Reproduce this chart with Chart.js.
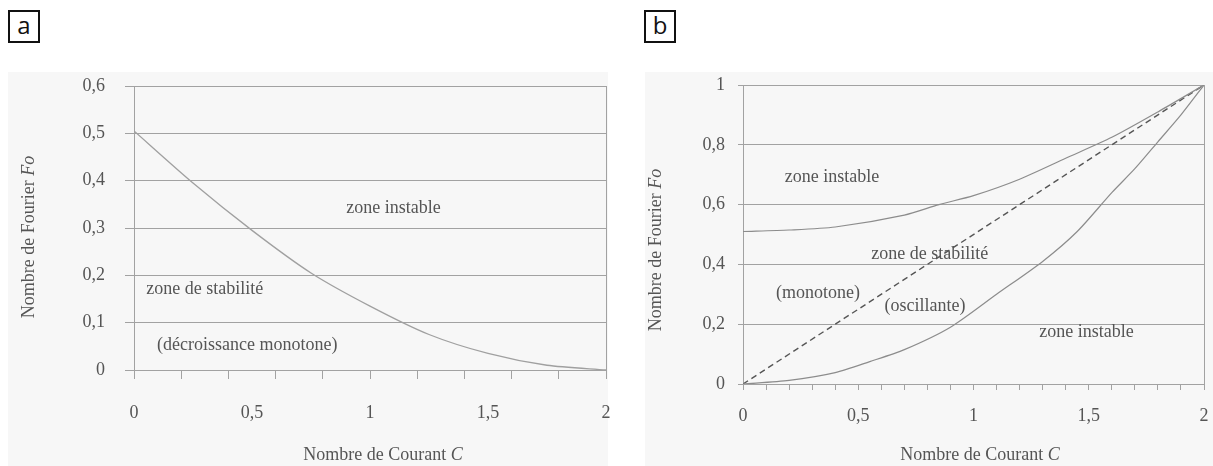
<!DOCTYPE html>
<html>
<head>
<meta charset="utf-8">
<script src="https://cdn.jsdelivr.net/npm/chart.js@4.4.0/dist/chart.umd.min.js"></script>
<style>
  body { margin: 0; background: #fff; width: 1213px; height: 466px; overflow: hidden; position: relative; }
  .panel-bg { position: absolute; top: 72px; height: 394px; background: #f7f7f7; }
  .tag { position: absolute; top: 10px; width: 28px; height: 29px; border: 2px solid #111; color: #111;
         font-family: 'Open Sans', sans-serif; font-size: 24px; line-height: 25px; text-align: center; }
  .box { position: absolute; top: 0; height: 466px; }
</style>
</head>
<body>
<div class="panel-bg" style="left:8px;width:600px"></div>
<div class="panel-bg" style="left:645px;width:568px"></div>
<div class="tag" style="left:8px">a</div>
<div class="tag" style="left:644px">b</div>
<div class="box" style="left:0;width:620px"><canvas id="chartA"></canvas></div>
<div class="box" style="left:630px;width:583px"><canvas id="chartB"></canvas></div>

<script>
// --- data ---
// panel a : stability limit
const courantA = [0, 0.25, 0.5, 0.75, 1, 1.25, 1.5, 1.75, 2];
const fourierA = [0.505, 0.395, 0.295, 0.205, 0.135, 0.075, 0.035, 0.01, 0];

// panel b : upper limit, lower limit, dashed separation
const courantBup = [0, 0.2, 0.4, 0.7, 0.85, 1.0, 1.2, 1.4, 1.6, 1.8, 2];
const fourierBup = [0.51, 0.515, 0.525, 0.565, 0.6, 0.63, 0.685, 0.755, 0.825, 0.91, 1];
const courantBlow = [0, 0.2, 0.4, 0.55, 0.7, 0.9, 1.1, 1.3, 1.45, 1.6, 1.7, 1.8, 1.9, 2];
const fourierBlow = [0, 0.012, 0.038, 0.075, 0.115, 0.19, 0.3, 0.41, 0.51, 0.64, 0.72, 0.81, 0.9, 1];
const courantBdash = [0, 2];
const fourierBdash = [0, 1];

// tick labels
const xLabelValues = [0, 0.5, 1, 1.5, 2];
const yTicksA = [0, 0.1, 0.2, 0.3, 0.4, 0.5, 0.6];
const yTicksB = [0, 0.2, 0.4, 0.6, 0.8, 1];

// texts written inside the plots
const notesA = [
  { text: "zone instable", c: 1.10, fo: 0.342 },
  { text: "zone de stabilité", c: 0.30, fo: 0.17 },
  { text: "(décroissance monotone)", c: 0.48, fo: 0.053 },
];
const notesB = [
  { text: "zone instable", c: 0.386, fo: 0.69 },
  { text: "zone de stabilité", c: 0.81, fo: 0.435 },
  { text: "(monotone)", c: 0.325, fo: 0.305 },
  { text: "(oscillante)", c: 0.79, fo: 0.26 },
  { text: "zone instable", c: 1.49, fo: 0.174 },
];

const serif = "'Liberation Serif', 'Times New Roman', serif";
const textColor = "#555";
const gridColor = "#a2a2a2";
const fontSize = 18;

const fmt = (v) => String(v).replace(".", ",");
const toXY = (xs, ys) => xs.map((x, i) => ({ x: x, y: ys[i] }));

// draw a string made of normal / italic pieces, centred on (0,0)
function drawMixed(ctx, parts) {
  const widths = parts.map(([t, it]) => {
    ctx.font = (it ? "italic " : "") + fontSize + "px " + serif;
    return ctx.measureText(t).width;
  });
  let x = -widths.reduce((a, b) => a + b, 0) / 2;
  parts.forEach(([t, it], i) => {
    ctx.font = (it ? "italic " : "") + fontSize + "px " + serif;
    ctx.fillText(t, x, 0);
    x += widths[i];
  });
}

const annotate = {
  id: "annotate",
  afterDraw(chart, args, opts) {
    const { ctx, scales } = chart;
    ctx.save();
    ctx.fillStyle = textColor;
    ctx.textBaseline = "middle";
    ctx.textAlign = "center";
    ctx.font = fontSize + "px " + serif;
    opts.notes.forEach((n) => {
      ctx.fillText(n.text, scales.x.getPixelForValue(n.c), scales.y.getPixelForValue(n.fo));
    });
    ctx.textAlign = "left";
    // x title
    ctx.save();
    ctx.translate(opts.xTitlePos[0], opts.xTitlePos[1]);
    drawMixed(ctx, [["Nombre de Courant ", false], ["C", true]]);
    ctx.restore();
    // y title
    ctx.save();
    ctx.translate(opts.yTitlePos[0], opts.yTitlePos[1]);
    ctx.rotate(-Math.PI / 2);
    drawMixed(ctx, [["Nombre de Fourier ", false], ["Fo", true]]);
    ctx.restore();
    ctx.restore();
  },
};

function makeChart(id, cfg) {
  const tickFont = { family: serif, size: fontSize };
  return new Chart(document.getElementById(id), {
    type: "line",
    data: { datasets: cfg.datasets },
    options: {
      responsive: true,
      maintainAspectRatio: false,
      animation: false,
      layout: { padding: { top: cfg.top, right: cfg.right, bottom: 0, left: 0 } },
      plugins: {
        legend: { display: false },
        tooltip: { enabled: false },
        annotate: { notes: cfg.notes, xTitlePos: cfg.xTitlePos, yTitlePos: cfg.yTitlePos },
      },
      elements: { point: { radius: 0 }, line: { tension: 0.25 } },
      scales: {
        // tick marks under the axis, no labels
        x: {
          type: "linear",
          position: "bottom",
          weight: 0,
          min: 0,
          max: 2,
          ticks: { display: false, stepSize: cfg.tickStep },
          grid: { drawOnChartArea: false, drawTicks: true, tickLength: cfg.xTickLen, color: gridColor },
          border: { color: gridColor },
          afterFit: (s) => { s.height = cfg.xTickLen + cfg.xGap; },
        },
        // labels every 0,5
        xLab: {
          type: "linear",
          position: "bottom",
          weight: 1,
          min: 0,
          max: 2,
          afterBuildTicks: (s) => { s.ticks = xLabelValues.map((v) => ({ value: v })); },
          ticks: { color: textColor, font: tickFont, padding: 0, maxRotation: 0, autoSkip: false, callback: fmt },
          grid: { display: false, drawTicks: false, tickLength: 0 },
          border: { display: false },
          afterFit: (s) => { s.height = cfg.xLabHeight; },
        },
        y: {
          type: "linear",
          position: "left",
          min: 0,
          max: cfg.yMax,
          afterBuildTicks: (s) => { s.ticks = cfg.yTicks.map((v) => ({ value: v })); },
          ticks: { color: textColor, font: tickFont, padding: cfg.yPad, callback: fmt },
          grid: { color: gridColor, tickLength: cfg.yTickLen },
          border: { color: gridColor },
          afterFit: (s) => { s.width = cfg.yWidth; },
        },
        // right frame line
        yR: {
          type: "linear",
          position: "right",
          min: 0,
          max: cfg.yMax,
          ticks: { display: false },
          grid: { display: false },
          border: { color: gridColor },
          afterFit: (s) => { s.width = 0; },
        },
      },
    },
    plugins: [annotate],
  });
}

makeChart("chartA", {
  datasets: [
    { data: toXY(courantA, fourierA), borderColor: "#a0a0a0", borderWidth: 1.3 },
  ],
  notes: notesA,
  top: 86, right: 14,
  yMax: 0.6, yTicks: yTicksA, yWidth: 134, yTickLen: 9, yPad: 20,
  tickStep: 0.2, xTickLen: 9, xGap: 23, xLabHeight: 64,
  xTitlePos: [383, 455], yTitlePos: [29, 237],
});

makeChart("chartB", {
  datasets: [
    { data: toXY(courantBup, fourierBup), borderColor: "#8c8c8c", borderWidth: 1.2 },
    { data: toXY(courantBlow, fourierBlow), borderColor: "#8c8c8c", borderWidth: 1.2 },
    { data: toXY(courantBdash, fourierBdash), borderColor: "#555", borderWidth: 1.4, borderDash: [6, 4], tension: 0 },
  ],
  notes: notesB,
  top: 85, right: 9,
  yMax: 1, yTicks: yTicksB, yWidth: 113, yTickLen: 5, yPad: 13,
  tickStep: 0.1, xTickLen: 6, xGap: 15, xLabHeight: 61,
  xTitlePos: [350, 455], yTitlePos: [26, 250],
});
</script>
</body>
</html>
